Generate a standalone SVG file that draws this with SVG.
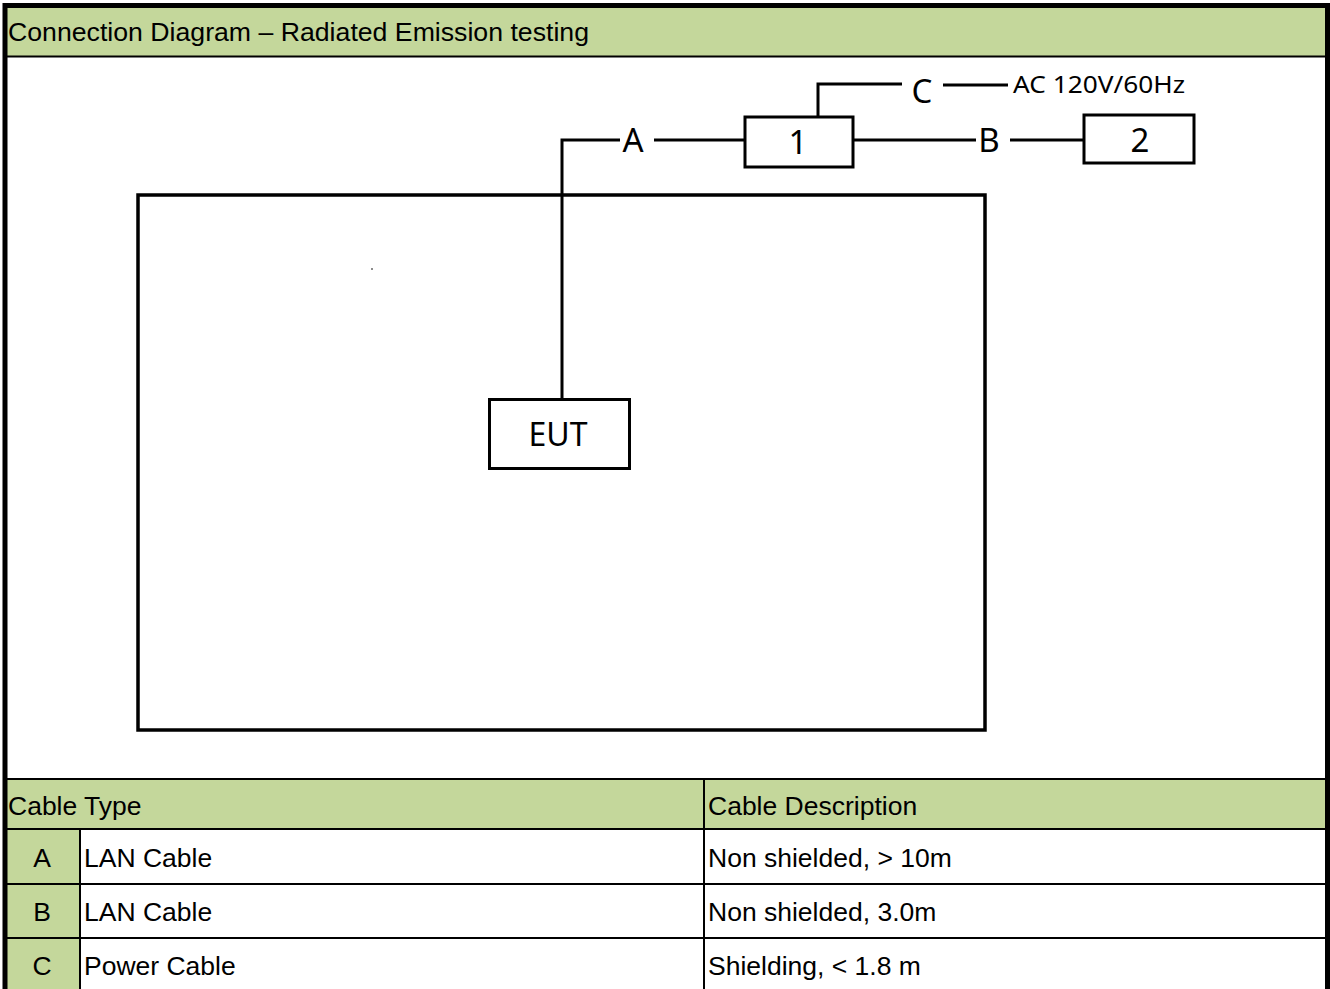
<svg xmlns="http://www.w3.org/2000/svg" width="1330" height="989" viewBox="0 0 1330 989">
<style>
.green{fill:#c4d79b}
.tt{font-family:"Liberation Sans",Arial,sans-serif;font-size:26.5px;fill:#000}
.lbl{font-family:"Noto Sans","Open Sans",sans-serif;fill:#000}
.box{fill:#fff;stroke:#000;stroke-width:3}
.wire{fill:none;stroke:#000;stroke-width:3}
.grid{stroke:#000;stroke-width:2;fill:none}
</style>
<rect x="0" y="0" width="1330" height="989" fill="#fff"/>
<!-- title header -->
<g id="title">
<rect class="green" x="7" y="8" width="1318" height="48"/>
<line class="grid" x1="7" y1="56.5" x2="1325" y2="56.5" stroke-width="1.5"/>
<text class="tt" x="8" y="41" font-size="26" textLength="581" lengthAdjust="spacingAndGlyphs">Connection Diagram – Radiated Emission testing</text>
</g>
<!-- test area -->
<g id="area">
<rect x="138" y="195" width="847" height="535" fill="none" stroke="#000" stroke-width="3.5"/>
<circle cx="372" cy="269" r="1" fill="#666"/>
</g>
<!-- connectors -->
<g id="connectors">
<path class="wire" d="M562,398 V140 H620"/>
<path class="wire" d="M654,140 H745"/>
<path class="wire" d="M853,140 H976"/>
<path class="wire" d="M1010,140 H1084"/>
<path class="wire" d="M818,117 V84 H902"/>
<path class="wire" d="M943,85 H1008"/>
<text class="lbl" x="633" y="152" font-size="33" text-anchor="middle">A</text>
<text class="lbl" x="989" y="152" font-size="33" text-anchor="middle">B</text>
<text class="lbl" x="922" y="103" font-size="33" text-anchor="middle">C</text>
<text class="lbl" x="1013" y="93" font-size="23" textLength="172" lengthAdjust="spacingAndGlyphs">AC 120V/60Hz</text>
</g>
<g id="node-1">
<rect class="box" x="745" y="117" width="108" height="50"/>
<text class="lbl" x="798" y="154" font-size="33" text-anchor="middle">1</text>
</g>
<g id="node-2">
<rect class="box" x="1084" y="115" width="110" height="48"/>
<text class="lbl" x="1140" y="152" font-size="33" text-anchor="middle">2</text>
</g>
<g id="node-eut">
<rect class="box" x="489.5" y="399.5" width="140" height="69"/>
<text class="lbl" x="558" y="446" font-size="32" text-anchor="middle">EUT</text>
</g>
<!-- table -->
<g id="table">
<rect class="green" x="7" y="779" width="1318" height="50"/>
<rect class="green" x="7" y="829" width="73" height="160"/>
<line class="grid" x1="7" y1="779" x2="1325" y2="779" stroke-width="3"/>
<line class="grid" x1="7" y1="829" x2="1325" y2="829"/>
<line class="grid" x1="7" y1="884" x2="1325" y2="884"/>
<line class="grid" x1="7" y1="938" x2="1325" y2="938"/>
<line class="grid" x1="80" y1="829" x2="80" y2="989"/>
<line class="grid" x1="704" y1="779" x2="704" y2="989"/>
<text class="tt" x="8" y="815">Cable Type</text>
<text class="tt" x="708" y="815">Cable Description</text>
<text class="tt" x="42" y="867" text-anchor="middle">A</text>
<text class="tt" x="84" y="867">LAN Cable</text>
<text class="tt" x="708" y="867">Non shielded, &gt; 10m</text>
<text class="tt" x="42" y="921" text-anchor="middle">B</text>
<text class="tt" x="84" y="921">LAN Cable</text>
<text class="tt" x="708" y="921">Non shielded, 3.0m</text>
<text class="tt" x="42" y="975" text-anchor="middle">C</text>
<text class="tt" x="84" y="975">Power Cable</text>
<text class="tt" x="708" y="975">Shielding, &lt; 1.8 m</text>
</g>
<!-- outer border -->
<g id="frame">
<path d="M5,989 V5.5 H1327.5 V989" fill="none" stroke="#000" stroke-width="5"/>
</g>
</svg>
